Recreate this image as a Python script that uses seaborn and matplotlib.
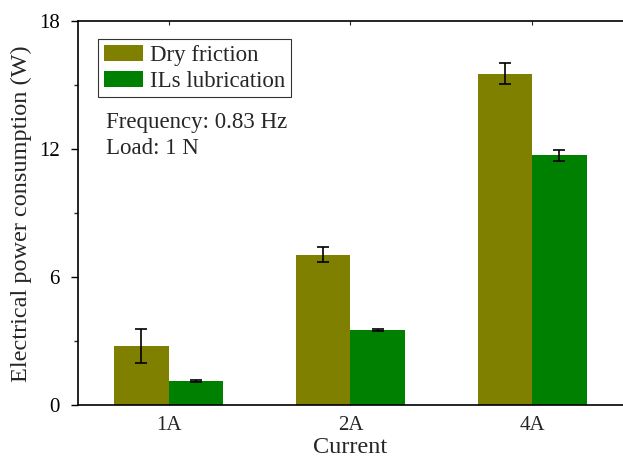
import matplotlib
matplotlib.use("Agg")
import matplotlib.pyplot as plt
import seaborn as sns
import pandas as pd
import numpy as np
from matplotlib.ticker import MultipleLocator

currents = ["1A", "2A", "4A"]
series = ["Dry friction", "ILs lubrication"]
dry_vals = [2.78, 7.06, 15.55]
dry_err = [0.80, 0.37, 0.50]
ils_vals = [1.13, 3.53, 11.72]
ils_err = [0.03, 0.06, 0.25]
colors = ["#808000", "#008000"]

df = pd.DataFrame({
    "Current": currents * 2,
    "Series": [series[0]] * 3 + [series[1]] * 3,
    "Power": dry_vals + ils_vals,
    "Err": dry_err + ils_err,
})

sns.set_theme(style="white")
plt.rcParams["font.family"] = ["Liberation Serif", "DejaVu Serif"]

fig = plt.figure(figsize=(6.23, 4.63), dpi=100)
ax = fig.add_axes([0.125, 0.125, 0.875, 0.829])

sns.barplot(data=df, x="Current", y="Power", hue="Series", order=currents,
            hue_order=series, palette=colors, width=0.6, errorbar=None,
            saturation=1, ax=ax, linewidth=0)

# error bars at bar centers taken from the drawn patches
for container, errs in zip(ax.containers, [dry_err, ils_err]):
    for patch, e in zip(container.patches, errs):
        cx = patch.get_x() + patch.get_width() / 2
        ax.errorbar(cx, patch.get_height(), yerr=e, fmt="none", ecolor="black",
                    elinewidth=1.2, capsize=4, capthick=1.2, zorder=5)

ax.set_ylim(0, 18)
ax.set_xlim(-0.5, 2.5)
ax.yaxis.set_major_locator(MultipleLocator(6))
ax.yaxis.set_minor_locator(MultipleLocator(3))
ax.tick_params(axis="y", which="major", direction="out", length=5, width=1,
               left=True, labelsize=15, colors="black", pad=8)
ax.tick_params(axis="y", which="minor", direction="out", length=3, width=1, left=True)
ax.tick_params(axis="x", which="major", direction="in", length=3, width=0.8,
               bottom=True, top=True, labelsize=15, pad=8)

for side in ["left", "bottom", "top"]:
    ax.spines[side].set_visible(True)
    ax.spines[side].set_color("black")
    ax.spines[side].set_linewidth(1.2)
ax.spines["right"].set_visible(False)

ax.set_xlabel("Current", fontsize=17.5, labelpad=1.5)
ax.set_ylabel("Electrical power consumption (W)", fontsize=17.5, labelpad=5)

leg = ax.legend(loc="upper left", bbox_to_anchor=(0.037, 0.953), fontsize=16.5,
                frameon=True, fancybox=False, edgecolor="black",
                handlelength=1.7, handleheight=0.7, borderpad=0.25,
                labelspacing=0.2, handletextpad=0.3, borderaxespad=0)
leg.get_frame().set_linewidth(0.8)

ax.text(0.051, 0.737, "Frequency: 0.83 Hz", transform=ax.transAxes, fontsize=16.5,
        va="center", ha="left")
ax.text(0.051, 0.669, "Load: 1 N", transform=ax.transAxes, fontsize=16.5,
        va="center", ha="left")

fig.savefig("out.png", dpi=100)
